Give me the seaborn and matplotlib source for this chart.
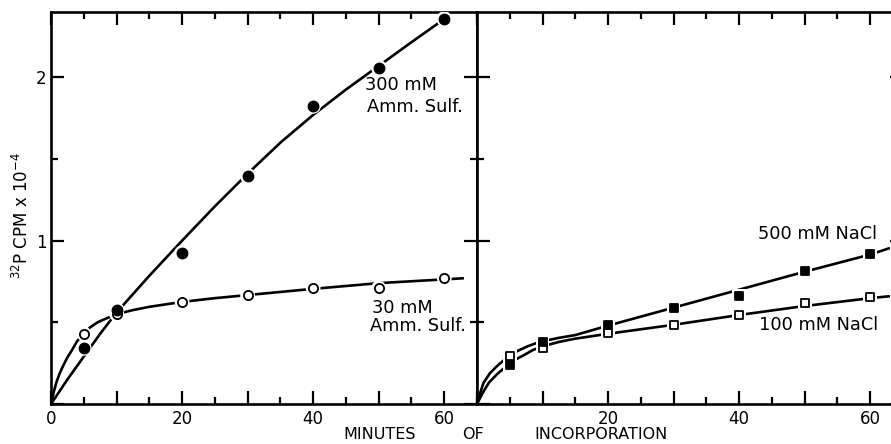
import numpy as np
import pandas as pd
import matplotlib
matplotlib.use("Agg")
import matplotlib.pyplot as plt
from matplotlib.ticker import MultipleLocator, FuncFormatter
import seaborn as sns

# ---------------- data ----------------
minutes = [5, 10, 20, 30, 40, 50, 60]
amm_300 = [0.343, 0.576, 0.924, 1.398, 1.825, 2.06, 2.357]
amm_30 = [0.43, 0.55, 0.625, 0.665, 0.71, 0.71, 0.77]
nacl_500 = [0.239, 0.382, 0.484, 0.586, 0.663, 0.816, 0.918]
nacl_100 = [0.294, 0.345, 0.433, 0.484, 0.545, 0.62, 0.653]

# fitted curves drawn in the reference
fit300_x = [0, 2.5, 5, 7.5, 10, 15, 20, 25, 30, 35, 40, 45, 50, 55, 60]
fit300_y = [0, 0.15, 0.29, 0.43, 0.56, 0.785, 1.00, 1.21, 1.41, 1.60, 1.77, 1.925, 2.07, 2.215, 2.357]
fit30_x = [0, 0.4, 0.8, 1.3, 1.8, 2.5, 3.2, 4.0, 5, 6, 7.1, 8.5, 10, 12.5, 15, 20, 25, 30, 40, 50, 60, 63]
fit30_y = [0, 0.07, 0.13, 0.185, 0.23, 0.285, 0.33, 0.385, 0.435, 0.47, 0.50, 0.525, 0.55, 0.575, 0.595, 0.625, 0.648, 0.667, 0.705, 0.74, 0.763, 0.77]
fit500_x = [0, 0.5, 1, 2, 3, 4, 5, 6.3, 7.7, 9, 10, 12.5, 15, 20, 30, 40, 50, 60, 63]
fit500_y = [0, 0.07, 0.13, 0.19, 0.23, 0.265, 0.296, 0.327, 0.353, 0.372, 0.384, 0.405, 0.422, 0.48, 0.59, 0.70, 0.81, 0.915, 0.955]
fit100_x = [0, 0.9, 1.8, 3, 4, 5, 6, 7.2, 8.5, 10, 12.5, 15, 20, 30, 40, 50, 60, 63]
fit100_y = [0, 0.07, 0.13, 0.18, 0.215, 0.245, 0.275, 0.30, 0.33, 0.353, 0.38, 0.40, 0.43, 0.485, 0.545, 0.60, 0.648, 0.66]

ylabel_text = r"$^{32}$P CPM x 10$^{-4}$"
xlabel_words = ["MINUTES", "OF", "INCORPORATION"]

# ---------------- style ----------------
sns.set_style("ticks")
plt.rcParams['font.family'] = ['DejaVu Sans']
plt.rcParams['mathtext.fontset'] = 'dejavusans'
plt.rcParams['axes.linewidth'] = 1.9
for k in ['text.color', 'axes.labelcolor', 'xtick.color', 'ytick.color', 'axes.edgecolor']:
    plt.rcParams[k] = 'black'

W, H = 891, 444
fig = plt.figure(figsize=(W / 100, H / 100), dpi=100)
left_px, mid_px, bot_px, top_px = 51, 477, 404, 12
pw = (mid_px - left_px) / W
ph = (bot_px - top_px) / H
ax1 = fig.add_axes([left_px / W, 1 - bot_px / H, pw, ph])
ax2 = fig.add_axes([mid_px / W, 1 - bot_px / H, pw, ph])

LW = 1.9


def curve(ax, xs, ys):
    df = pd.DataFrame({"x": xs, "y": ys})
    sns.lineplot(data=df, x="x", y="y", ax=ax, sort=False, estimator=None,
                 color="black", linewidth=LW, zorder=2)
    for l in ax.lines:
        l.set_solid_joinstyle("round")
        l.set_solid_capstyle("butt")


def points(ax, xs, ys, marker, filled, size):
    df = pd.DataFrame({"x": xs, "y": ys})
    # white halo gives the little gaps in the line around each symbol
    sns.scatterplot(data=df, x="x", y="y", ax=ax, marker=marker, s=(np.sqrt(size) + 4) ** 2,
                    color="white", edgecolor="none", linewidth=0, zorder=3)
    sns.scatterplot(data=df, x="x", y="y", ax=ax, marker=marker, s=size,
                    color="black" if filled else "white", edgecolor="black",
                    linewidth=1.3, zorder=4)


curve(ax1, fit300_x, fit300_y)
curve(ax1, fit30_x, fit30_y)
points(ax1, minutes, amm_30, "o", False, 44)
points(ax1, minutes, amm_300, "o", True, 52)

curve(ax2, fit500_x, fit500_y)
curve(ax2, fit100_x, fit100_y)
points(ax2, minutes, nacl_100, "s", False, 34)
points(ax2, minutes, nacl_500, "s", True, 34)

for i, ax in enumerate((ax1, ax2)):
    ax.set_xlim(0, 65)
    ax.set_ylim(0, 2.4)
    ax.set_xlabel("")
    ax.set_ylabel("")
    ax.xaxis.set_major_locator(MultipleLocator(10))
    ax.xaxis.set_minor_locator(MultipleLocator(5))
    ax.yaxis.set_major_locator(MultipleLocator(1))
    ax.yaxis.set_minor_locator(MultipleLocator(0.5))
    ax.tick_params(which="both", direction="in", top=True, right=True,
                   bottom=True, left=True, width=1.6, color="black",
                   labelsize=12, labelcolor="black")
    ax.tick_params(which="major", length=9.5)
    ax.tick_params(which="minor", length=5)
    ax.tick_params(axis="x", pad=4.5)
    ax.tick_params(axis="y", pad=3)
    for sp in ax.spines.values():
        sp.set_visible(True)
        sp.set_color("black")
        sp.set_linewidth(1.9)
    ax.set_facecolor("white")

ax1.xaxis.set_major_formatter(FuncFormatter(lambda v, p: f"{int(v)}" if v % 20 == 0 else ""))
ax2.xaxis.set_major_formatter(FuncFormatter(lambda v, p: f"{int(v)}" if (v % 20 == 0 and v > 0) else ""))
ax1.yaxis.set_major_formatter(FuncFormatter(lambda v, p: f"{int(v)}" if v > 0 else ""))
ax2.yaxis.set_major_formatter(FuncFormatter(lambda v, p: ""))

# annotations
fs = 12.8
ax1.text(47.9, 1.95, "300 mM", fontsize=fs, ha="left", va="center")
ax1.text(48.2, 1.82, "Amm. Sulf.", fontsize=fs, ha="left", va="center")
ax1.text(49.0, 0.588, "30 mM", fontsize=fs, ha="left", va="center")
ax1.text(48.7, 0.478, "Amm. Sulf.", fontsize=fs, ha="left", va="center")
ax2.text(42.8, 1.04, "500 mM NaCl", fontsize=fs, ha="left", va="center")
ax2.text(43.1, 0.484, "100 mM NaCl", fontsize=fs, ha="left", va="center")

# axis titles
ax1.set_ylabel(ylabel_text, fontsize=12)
ax1.yaxis.set_label_coords(-0.045, 0.48)
for word, cx in zip(xlabel_words, [380, 473, 601]):
    fig.text(cx / W, 1 - 439 / H, word, fontsize=11.5, ha="center", va="baseline")

fig.savefig("out.png", dpi=100, facecolor="white")
